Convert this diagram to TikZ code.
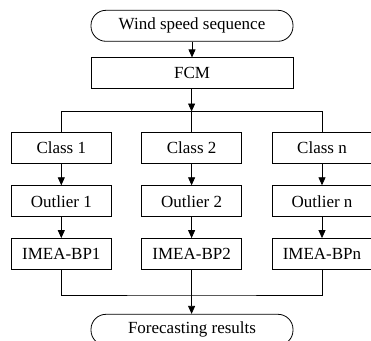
\documentclass[tikz,border=0pt]{standalone}
\usepackage{fontspec}
\setmainfont{Liberation Serif}
\usetikzlibrary{arrows.meta}
\begin{document}
\begin{tikzpicture}[x=1pt,y=-1pt,
  every node/.style={font=\fontsize{17}{20}\selectfont},
  box/.style={draw, line width=0.8pt, minimum width=99.5pt, minimum height=31pt, inner sep=0pt},
  wide/.style={box, minimum width=202pt},
  term/.style={wide, rounded corners=15pt},
  line/.style={draw, line width=0.8pt},
  arr/.style={line, -{Triangle[length=8pt,width=7pt]}}]
\useasboundingbox (0,0) rectangle (371,340);
\clip (0,0) rectangle (371,340);
\node[term] (ws) at (192,25.8) {Wind speed sequence};
\node[wide] (fcm) at (192,73.3) {FCM};
\node[box] (c1) at (61.3,147.6) {Class 1};
\node[box] (c2) at (191.6,147.6) {Class 2};
\node[box] (cn) at (322,147.6) {Class n};
\node[box] (o1) at (61.3,201.2) {Outlier 1};
\node[box] (o2) at (191.6,201.2) {Outlier 2};
\node[box] (on) at (322,201.2) {Outlier n};
\node[box] (i1) at (61.3,254) {IMEA-BP1};
\node[box] (i2) at (191.6,254) {IMEA-BP2};
\node[box] (in) at (322,254) {IMEA-BPn};
\node[term] (fr) at (192,329.8) {Forecasting results};
\coordinate (b0) at (191.6,111.5);
\coordinate (d0) at (191.6,295);
\draw[arr] (ws) -- (fcm);
\draw[arr] (fcm.south -| b0) -- (b0);
\draw[line] (c1.north) |- (b0) -| (cn.north);
\draw[line] (b0) -- (c2.north);
\draw[arr] (c1) -- (o1);
\draw[arr] (c2) -- (o2);
\draw[arr] (cn) -- (on);
\draw[arr] (o1) -- (i1);
\draw[arr] (o2) -- (i2);
\draw[arr] (on) -- (in);
\draw[line] (i1.south) |- (d0) -| (in.south);
\draw[arr] (i2.south) -- (fr.north -| i2.south);
\end{tikzpicture}
\end{document}
